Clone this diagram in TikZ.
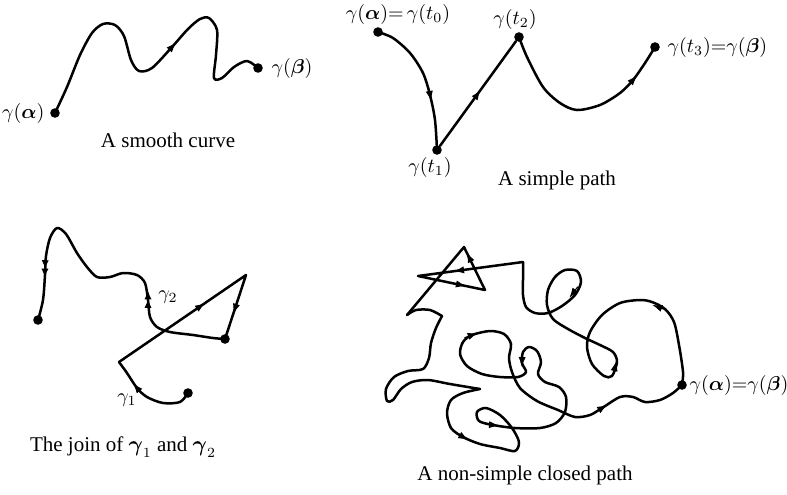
\documentclass[tikz,border=0pt]{standalone}
\usepackage{amsmath}
\usepackage{fontspec}
\setmainfont{Liberation Serif}
\usetikzlibrary{positioning, arrows.meta}

% arrowhead sitting on a curve: point, direction (y runs down)
\newcommand{\tipon}[2]{\draw[tip] (#1) ++({#2+180}:8) -- ++(#2:14);}
\newcommand{\dtipon}[2]{\draw[dtip] (#1) ++({#2+180}:10) -- ++(#2:19);}

\begin{document}
\begin{tikzpicture}[
    x=0.5pt, y=-0.5pt,
    curve/.style={line width=1.25pt, line cap=round, line join=round},
    dot/.style={circle, fill, inner sep=0pt, minimum size=4.8pt},
    lbl/.style={font=\fontsize{10}{12}\selectfont, inner sep=1pt},
    caption/.style={font=\fontsize{10.5}{12}\selectfont},
    tip/.style={-{Latex[length=5pt, width=3.6pt]}, line width=0.5pt},
    dtip/.style={-{Latex[length=4.2pt, width=3.6pt] Latex[length=4.2pt, width=3.6pt]}, line width=0.5pt}
]
\useasboundingbox (0,0) rectangle (787,494);

% === A smooth curve ===
\node[dot] (sa) at (55,113) {};
\node[dot] (sb) at (258,68) {};
\draw[curve] plot[smooth] coordinates {(sa.center) (67,87) (80,55) (92,33) (103,24) (115,25) (124,36) (131,60) (139,71) (152,68) (172,47) (188,29) (200,19) (209,18) (217,30) (216,55) (214,78) (222,78) (234,67) (247,61) (sb.center)};
\tipon{172,47}{-47}
\node[lbl, left=1.5pt of sa] (sa-lbl) {$\gamma(\boldsymbol{\alpha})$};
\node[lbl, right=3pt of sb] (sb-lbl) {$\gamma(\boldsymbol{\beta})$};
\node[caption] (smooth) at (168,140) {A smooth curve};

% === A simple path ===
\node[dot] (t0) at (378,32) {};
\node[dot] (t1) at (437,150) {};
\node[dot] (t2) at (519,37) {};
\node[dot] (t3) at (655,47) {};
\draw[curve] plot[smooth] coordinates {(t0.center) (393,38) (410,53) (423,73) (430,95) (435,120) (t1.center)};
\draw[curve] (t1) -- (t2);
\draw[curve] plot[smooth] coordinates {(t2.center) (527,57) (543,87) (560,103) (577,110) (600,105) (620,93) (633,80) (645,63) (t3.center)};
\tipon{430,95}{80}
\tipon{477,95}{-54}
\tipon{633,80}{-48}
\node[lbl, above=0pt of t0, xshift=10pt] (t0-lbl) {$\gamma(\boldsymbol{\alpha}){=}\,\gamma(t_0)$};
\node[lbl, below=0pt of t1, xshift=-3.5pt] (t1-lbl) {$\gamma(t_1)$};
\node[lbl, above=0pt of t2, xshift=-2pt] (t2-lbl) {$\gamma(t_2)$};
\node[lbl, right=2.5pt of t3] (t3-lbl) {$\gamma(t_3){=}\gamma(\boldsymbol{\beta})$};
\node[caption] (simple) at (557,180) {A simple path};

% === The join ===
\node[dot] (jl) at (38,320) {};
\node[dot] (jb) at (225,339) {};
\node[dot] (jc) at (188,393) {};
\coordinate (jk) at (119,362);
\coordinate (jt) at (246,275);
\draw[curve] plot[smooth] coordinates {(jc.center) (180,402) (163,403) (147,397) (137,388) (127,373) (jk)};
\draw[curve] (jk) -- (jt) -- (jb.center);
\draw[curve] plot[smooth] coordinates {(jb.center) (213,338) (193,335) (170,332) (157,327) (150,317) (148,300) (145,283) (137,275) (123,273) (110,277) (97,277) (87,267) (77,253) (66,234) (57,228) (50,238) (46,256) (45,275) (43,300) (jl.center)};
\tipon{137,388}{230}
\tipon{200,306.5}{-34}
\tipon{235.2,308}{108}
\dtipon{45,268}{92}
\dtipon{148,300}{-90}
\node[lbl] (g2-lbl) at (168,297) {$\gamma_2$};
\node[lbl] (g1-lbl) at (127,400) {$\gamma_1$};
\node[caption] (join) at (123,447) {The join of $\boldsymbol{\gamma}_1$ and $\boldsymbol{\gamma}_2$};

% === A non-simple closed path ===
\node[dot] (p) at (682,385) {};
\coordinate (q1) at (523,262);
\coordinate (q2) at (418,276);
\coordinate (q3) at (485,290);
\coordinate (q4) at (464,247);
\coordinate (q5) at (407,315);
\coordinate (q6) at (442,316);
\coordinate (q7) at (480,389);
\draw[curve] plot[smooth] coordinates {(p.center) (683,372) (679,345) (674,322) (665,309) (652,302) (640,300) (620,303) (602,315) (590,332) (587,347) (592,364) (604,376) (612,376) (617,362) (613,352) (600,345) (585,338) (568,329) (553,319) (547,305) (548,290) (555,277) (565,270) (577,271) (581,282) (575,295) (562,306) (548,313) (535,313) (526,307) (523,295) (523,280) (q1)};
\draw[curve] (q1) -- (q2) -- (q3) -- (q4) -- (q5);
\draw[curve] plot[smooth] coordinates {(q5) (416,310) (430,310) (q6)};
\draw[curve] plot[smooth] coordinates {(q6) (436,328) (431,343) (429,358) (423,369) (408,371) (394,377) (386,389) (387,401) (393,400) (401,389) (412,382) (428,380) (450,384) (q7)};
\draw[curve] plot[smooth] coordinates {(q7) (463,393) (451,400) (447,413) (451,428) (463,437) (480,444) (500,448) (515,451) (519,442) (512,428) (500,415) (486,408) (477,412) (479,421) (493,425) (515,428) (540,428) (556,423) (565,412) (566,397) (559,387) (545,382) (538,374) (541,362) (537,351) (529,347) (523,352) (522,363) (526,372) (518,377) (500,377) (482,374) (467,366) (460,354) (463,342) (472,335) (490,331) (504,334) (511,344) (509,358) (512,372) (520,388) (537,401) (558,410) (575,417) (590,415) (602,408) (620,397) (633,397) (645,402) (660,400) (673,393) (p.center)};
\tipon{658,307}{200}
\tipon{615,367}{-77}
\tipon{573,293}{127}
\tipon{460,270.4}{172}
\tipon{460,284.8}{12}
\tipon{469.4,258}{-116}
\tipon{463,437}{30}
\tipon{493,425}{5}
\tipon{522,361}{92}
\tipon{472,335}{-20}
\tipon{602,408}{-31}
\node[lbl, right=0pt of p] (p-lbl) {$\gamma(\boldsymbol{\alpha}){=}\gamma(\boldsymbol{\beta})$};
\node[caption] (closed) at (525,475) {A non-simple closed path};

\end{tikzpicture}
\end{document}
